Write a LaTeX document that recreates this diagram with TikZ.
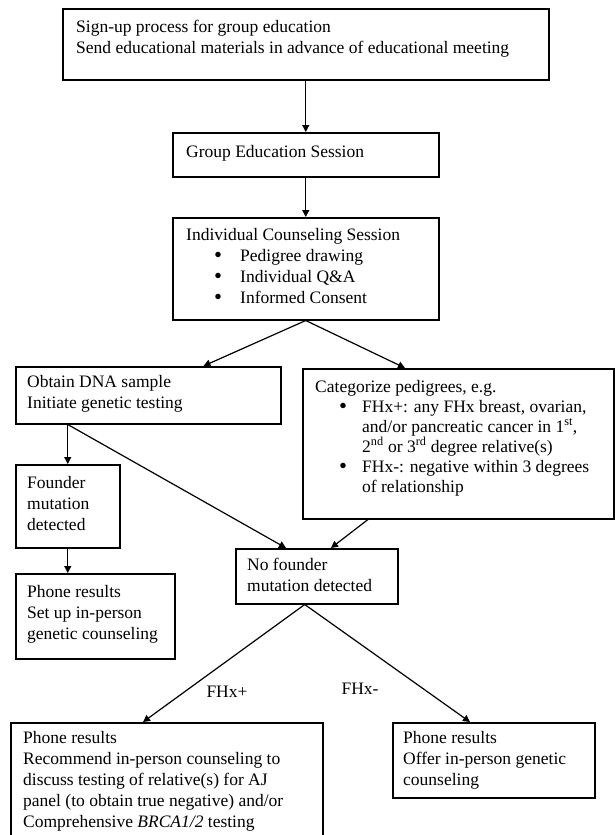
\documentclass[tikz,border=0pt]{standalone}
\usepackage{fontspec}
\setmainfont{Liberation Serif}
\usetikzlibrary{arrows.meta,positioning,calc}

% bullet lines inside the boxes
\newcommand{\bigdot}{\smash{\raisebox{-1.2pt}{\scalebox{1.3}{\textbullet}}}}
\newcommand{\cbul}{\hspace*{28pt}\makebox[26pt][l]{\bigdot}}
\newcommand{\pbul}{\hspace*{24pt}\makebox[23pt][l]{\bigdot}}
\newcommand{\pind}{\hspace*{47pt}}
\newcommand{\fst}{\rule{0pt}{16pt}}

\begin{document}
\begin{tikzpicture}[x=1pt,y=-1pt,
  box/.style={draw, line width=1.5pt, anchor=north west, inner sep=0pt},
  txt/.style={anchor=north west, inner sep=0pt, align=left, font=\fontsize{17.5}{21}\selectfont},
  lbl/.style={inner sep=0pt, font=\fontsize{17.5}{21}\selectfont},
  arr/.style={-{Triangle[length=7pt,width=7pt]}, line width=1.2pt}]

   \useasboundingbox (0,0) rectangle (614,835);

   % boxes
   \node[box, minimum width=486, minimum height=71] (signup) at (62,8) {};
   \node[box, minimum width=266, minimum height=44] (group) at (172,132) {};
   \node[box, minimum width=266, minimum height=102] (indiv) at (172,217) {};
   \node[box, minimum width=265, minimum height=57] (dna) at (15,366) {};
   \node[box, minimum width=311, minimum height=150] (categ) at (302,368) {};
   \node[box, minimum width=104, minimum height=83] (founder) at (15,464) {};
   \node[box, minimum width=159, minimum height=85] (phone1) at (15,573) {};
   \node[box, minimum width=162, minimum height=55] (nofound) at (235,548) {};
   \node[box, minimum width=312, minimum height=140] (phoneplus) at (10,722) {};
   \node[box, minimum width=202, minimum height=75] (phoneminus) at (392,722) {};

   % texts
   \node[txt] (signuptxt) at (76,16) {\fst Sign-up process for group education\\
      Send educational materials in advance of educational meeting};
   \node[txt] (grouptxt) at (186,141) {\fst Group Education Session};
   \node[txt] (indivtxt) at (186,224) {\fst Individual Counseling Session\\
      \cbul Pedigree drawing\\
      \cbul Individual Q\&A\\
      \cbul Informed Consent};
   \node[txt] (dnatxt) at (27,371) {\fst Obtain DNA sample\\ Initiate genetic testing};
   \node[txt, font=\fontsize{17.5}{20}\selectfont] (categtxt) at (315,376) {\fst Categorize pedigrees, e.g.\\
      \pbul FHx+: any FHx breast, ovarian,\\
      \pind and/or pancreatic cancer in 1\textsuperscript{st},\\
      \pind 2\textsuperscript{nd} or 3\textsuperscript{rd} degree relative(s)\\
      \pbul FHx-: negative within 3 degrees\\
      \pind of relationship};
   \node[txt] (foundertxt) at (27,472) {\fst Founder\\ mutation\\ detected};
   \node[txt] (phone1txt) at (27,581) {\fst Phone results\\ Set up in-person\\ genetic counseling};
   \node[txt] (nofoundtxt) at (247,554) {\fst No founder\\ mutation detected};
   \node[txt] (phoneplustxt) at (23,727) {\fst Phone results\\
      Recommend in-person counseling to\\
      discuss testing of relative(s) for AJ\\
      panel (to obtain true negative) and/or\\
      Comprehensive \textit{BRCA1/2} testing};
   \node[txt] (phoneminustxt) at (403,727) {\fst Phone results\\ Offer in-person genetic\\ counseling};

   % connectors
   \coordinate (split) at (founder.north |- dna.south);
   \draw[arr] (signup) -- (group);
   \draw[arr] (group) -- (indiv);
   \draw[arr] (indiv.south) -- ([xshift=-78]dna.north east);
   \draw[arr] (indiv.south) -- ([xshift=103]categ.north west);
   \draw[arr] (split) -- (founder.north);
   \draw[arr] (split) -- ([xshift=51]nofound.north west);
   \draw[arr] ([xshift=66]categ.south west) -- ([xshift=96]nofound.north west);
   \draw[arr] (founder.south) -- (founder.south |- phone1.north);
   \draw[arr] ([xshift=-12]nofound.south) -- ([xshift=133]phoneplus.north west);
   \draw[arr] ([xshift=-12]nofound.south) -- ([xshift=78]phoneminus.north west);

   % branch labels
   \node[lbl] (fhxpos) at (227,692) {FHx+};
   \node[lbl] (fhxneg) at (360,689) {FHx-};

\end{tikzpicture}
\end{document}
